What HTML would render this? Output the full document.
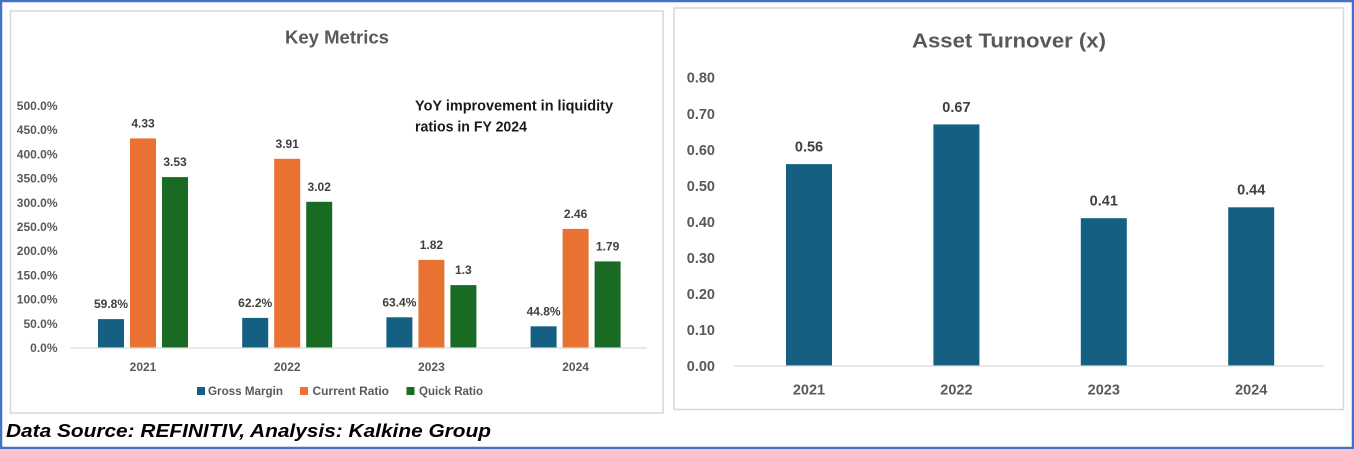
<!DOCTYPE html>
<html>
<head>
<meta charset="utf-8">
<style>
html,body{margin:0;padding:0;background:#fff;}
svg{display:block;}
text{font-family:"Liberation Sans",Arial,sans-serif;font-weight:bold;}
</style>
</head>
<body>
<svg width="1354" height="449" viewBox="0 0 1354 449" xmlns="http://www.w3.org/2000/svg">
<rect x="0" y="0" width="1354" height="449" fill="#fff"/>
<!-- outer blue border -->
<rect x="1" y="1" width="1352" height="447" fill="none" stroke="#4472C4" stroke-width="2.5"/>

<!-- Left panel -->
<rect x="10.5" y="11" width="652.5" height="402" fill="#fff" stroke="#d9d9d9" stroke-width="1.6"/>
<text x="337" y="43.5" font-size="18" fill="#595959" text-anchor="middle" textLength="104" lengthAdjust="spacingAndGlyphs">Key Metrics</text>

<!-- y ticks left -->
<g font-size="12" fill="#595959" text-anchor="end">
<text x="57.5" y="110">500.0%</text>
<text x="57.5" y="134.2">450.0%</text>
<text x="57.5" y="158.4">400.0%</text>
<text x="57.5" y="182.6">350.0%</text>
<text x="57.5" y="206.8">300.0%</text>
<text x="57.5" y="231">250.0%</text>
<text x="57.5" y="255.2">200.0%</text>
<text x="57.5" y="279.4">150.0%</text>
<text x="57.5" y="303.6">100.0%</text>
<text x="57.5" y="327.8">50.0%</text>
<text x="57.5" y="352">0.0%</text>
</g>

<!-- annotation -->
<text x="415" y="110.7" font-size="14.5" fill="#1a1a1a" textLength="198" lengthAdjust="spacingAndGlyphs">YoY improvement in liquidity</text>
<text x="415" y="131.7" font-size="14.5" fill="#1a1a1a" textLength="112" lengthAdjust="spacingAndGlyphs">ratios in FY 2024</text>

<!-- bars left -->
<g>
<!-- 2021 center 143 -->
<rect x="98" y="319.1" width="26" height="28.9" fill="#156082"/>
<rect x="130" y="138.4" width="26" height="209.6" fill="#E97132"/>
<rect x="162" y="177.1" width="26" height="170.9" fill="#196B24"/>
<!-- 2022 center 287.2 -->
<rect x="242.2" y="317.9" width="26" height="30.1" fill="#156082"/>
<rect x="274.2" y="158.8" width="26" height="189.2" fill="#E97132"/>
<rect x="306.2" y="201.8" width="26" height="146.2" fill="#196B24"/>
<!-- 2023 center 431.4 -->
<rect x="386.4" y="317.3" width="26" height="30.7" fill="#156082"/>
<rect x="418.4" y="259.9" width="26" height="88.1" fill="#E97132"/>
<rect x="450.4" y="285.1" width="26" height="62.9" fill="#196B24"/>
<!-- 2024 center 575.6 -->
<rect x="530.6" y="326.3" width="26" height="21.7" fill="#156082"/>
<rect x="562.6" y="228.9" width="26" height="119.1" fill="#E97132"/>
<rect x="594.6" y="261.4" width="26" height="86.6" fill="#196B24"/>
</g>
<line x1="70.5" y1="348" x2="647" y2="348" stroke="#d9d9d9" stroke-width="1.2"/>

<!-- data labels left -->
<g font-size="12" fill="#404040" text-anchor="middle">
<text x="111" y="308">59.8%</text>
<text x="143" y="127.4">4.33</text>
<text x="175" y="166.1">3.53</text>
<text x="255.2" y="306.9">62.2%</text>
<text x="287.2" y="147.8">3.91</text>
<text x="319.2" y="190.8">3.02</text>
<text x="399.4" y="306.3">63.4%</text>
<text x="431.4" y="248.9">1.82</text>
<text x="463.4" y="274.1">1.3</text>
<text x="543.6" y="315.3">44.8%</text>
<text x="575.6" y="217.9">2.46</text>
<text x="607.6" y="250.4">1.79</text>
</g>

<!-- year labels left -->
<g font-size="12" fill="#595959" text-anchor="middle">
<text x="143" y="371">2021</text>
<text x="287.2" y="371">2022</text>
<text x="431.4" y="371">2023</text>
<text x="575.6" y="371">2024</text>
</g>

<!-- legend -->
<rect x="197" y="387" width="8" height="8" fill="#156082"/>
<text x="208" y="395" font-size="12" fill="#595959" textLength="75" lengthAdjust="spacingAndGlyphs">Gross Margin</text>
<rect x="300" y="387" width="8" height="8" fill="#E97132"/>
<text x="312.5" y="395" font-size="12" fill="#595959" textLength="76.5" lengthAdjust="spacingAndGlyphs">Current Ratio</text>
<rect x="406.5" y="387" width="8" height="8" fill="#196B24"/>
<text x="419" y="395" font-size="12" fill="#595959" textLength="64" lengthAdjust="spacingAndGlyphs">Quick Ratio</text>

<!-- footer -->
<text x="6" y="437" font-size="18.5" font-style="italic" fill="#000" textLength="485" lengthAdjust="spacingAndGlyphs">Data Source: REFINITIV, Analysis: Kalkine Group</text>

<!-- Right panel -->
<rect x="674" y="8" width="669.5" height="401.5" fill="#fff" stroke="#d9d9d9" stroke-width="1.6"/>
<text x="1009" y="47.3" font-size="20" fill="#595959" text-anchor="middle" textLength="194" lengthAdjust="spacingAndGlyphs">Asset Turnover (x)</text>

<g font-size="14.5" fill="#595959" text-anchor="end">
<text x="715" y="82.7">0.80</text>
<text x="715" y="118.8">0.70</text>
<text x="715" y="154.8">0.60</text>
<text x="715" y="190.9">0.50</text>
<text x="715" y="226.9">0.40</text>
<text x="715" y="263">0.30</text>
<text x="715" y="299">0.20</text>
<text x="715" y="335.1">0.10</text>
<text x="715" y="371.2">0.00</text>
</g>

<g fill="#156082">
<rect x="786" y="164.1" width="46" height="201.9"/>
<rect x="933.4" y="124.4" width="46" height="241.6"/>
<rect x="1080.8" y="218.2" width="46" height="147.8"/>
<rect x="1228.2" y="207.3" width="46" height="158.7"/>
</g>
<line x1="734.3" y1="366" x2="1323.7" y2="366" stroke="#d9d9d9" stroke-width="1.2"/>

<g font-size="14.5" fill="#404040" text-anchor="middle">
<text x="809" y="151.5">0.56</text>
<text x="956.4" y="111.8">0.67</text>
<text x="1103.8" y="205.6">0.41</text>
<text x="1251.2" y="194.7">0.44</text>
</g>

<g font-size="14.5" fill="#595959" text-anchor="middle">
<text x="809" y="394.5">2021</text>
<text x="956.4" y="394.5">2022</text>
<text x="1103.8" y="394.5">2023</text>
<text x="1251.2" y="394.5">2024</text>
</g>
</svg>
</body>
</html>
